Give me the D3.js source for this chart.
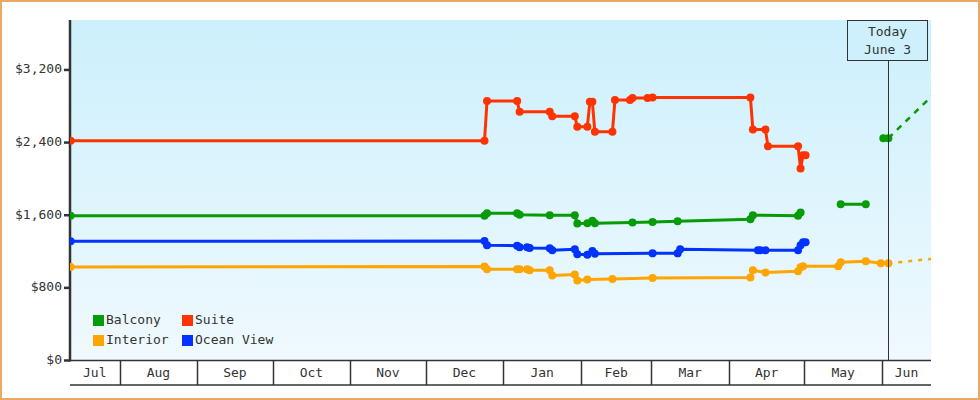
<!DOCTYPE html>
<html>
<head>
<meta charset="utf-8">
<script src="https://cdn.jsdelivr.net/npm/d3@7"></script>
<style>
  html, body { margin: 0; padding: 0; background: #fff; }
  svg { display: block; }
  text { font-family: "DejaVu Sans Mono", "Liberation Mono", monospace; font-size: 13px; fill: #333; }
</style>
</head>
<body>
<svg id="chart" width="980" height="400"></svg>
<script>
// ---------------- DATA ----------------
const seriesNames = ["Balcony", "Suite", "Interior", "Ocean View"];
const seriesColors = ["#079b07", "#ff3300", "#ffa500", "#0033ff"];
const yTicks = [0, 800, 1600, 2400, 3200];
const todayDate = "2023-06-03";
const todayLabel = ["Today", "June 3"];

const suiteDates = ["2022-07-12","2022-12-24","2022-12-25","2023-01-06","2023-01-07","2023-01-19","2023-01-20","2023-01-29","2023-01-30","2023-02-03","2023-02-04","2023-02-05","2023-02-06","2023-02-13","2023-02-14","2023-02-20","2023-02-21","2023-02-27","2023-03-01","2023-04-09","2023-04-10","2023-04-15","2023-04-16","2023-04-28","2023-04-29","2023-04-30","2023-05-01"];
const suitePrices = [2420,2419,2857,2857,2740,2740,2691,2690,2573,2575,2849,2849,2518,2518,2868,2868,2890,2890,2897,2897,2544,2544,2360,2360,2114,2261,2261];

const balconyDates = ["2022-07-12","2022-12-24","2022-12-25","2023-01-06","2023-01-07","2023-01-19","2023-01-29","2023-01-30","2023-02-03","2023-02-05","2023-02-06","2023-02-21","2023-03-01","2023-03-11","2023-04-09","2023-04-10","2023-04-28","2023-04-29","2023-05-07","2023-05-15","2023-05-25","2023-05-28","2023-06-01","2023-06-03"];
const balconyPrices = [1595,1595,1621,1621,1605,1600,1600,1508,1511,1539,1511,1520,1525,1533,1555,1600,1595,1630,null,1720,1720,null,2448,2448];

const oceanDates = ["2022-07-12","2022-12-24","2022-12-25","2023-01-06","2023-01-07","2023-01-10","2023-01-11","2023-01-19","2023-01-20","2023-01-29","2023-01-30","2023-02-03","2023-02-05","2023-02-06","2023-03-01","2023-03-11","2023-03-12","2023-04-12","2023-04-13","2023-04-15","2023-04-28","2023-04-29","2023-04-30","2023-05-01"];
const oceanPrices = [1312,1315,1268,1265,1246,1248,1240,1235,1213,1224,1169,1166,1205,1177,1180,1180,1224,1213,1213,1213,1213,1268,1301,1301];

const interiorDates = ["2022-07-12","2022-12-24","2022-12-25","2023-01-06","2023-01-07","2023-01-10","2023-01-11","2023-01-19","2023-01-20","2023-01-29","2023-01-30","2023-02-03","2023-02-13","2023-03-01","2023-04-09","2023-04-10","2023-04-15","2023-04-28","2023-04-29","2023-04-30","2023-05-14","2023-05-15","2023-05-25","2023-05-31","2023-06-03"];
const interiorPrices = [1031,1035,1004,1006,1004,1004,993,993,937,948,882,893,897,908,915,993,968,982,1026,1037,1037,1081,1092,1070,1070];

const forecastDates = ["2023-06-03","2023-06-21"];
const balconyForecast = [2448, 2930];
const interiorForecast = [1070, 1122];

// ---------------- CHART ----------------
const W = 980, H = 400;
const plot = { left: 70, right: 931, top: 20, bottom: 360.5 };
const axisBottom = 385;

const parse = d3.timeParse("%Y-%m-%d");
const noon = s => d3.timeHour.offset(parse(s), 12);

const x = d3.scaleTime()
  .domain([new Date(2022, 6, 12, 6), new Date(2023, 5, 20, 12)])
  .range([plot.left, plot.right]);
const y = d3.scaleLinear().domain([0, 3750]).range([plot.bottom, plot.top]);

const svg = d3.select("#chart");

// frame
svg.append("rect").attr("x", 1).attr("y", 1).attr("width", W - 2).attr("height", H - 2)
  .attr("fill", "#fff").attr("stroke", "#eaa866").attr("stroke-width", 2);

const defs = svg.append("defs");
const grad = defs.append("linearGradient").attr("id", "bg").attr("x1", 0).attr("y1", 0).attr("x2", 0).attr("y2", 1);
grad.append("stop").attr("offset", "0%").attr("stop-color", "#ccf0fc");
grad.append("stop").attr("offset", "100%").attr("stop-color", "#f0f9fe");
defs.append("clipPath").attr("id", "clip").append("rect")
  .attr("x", plot.left).attr("y", plot.top)
  .attr("width", plot.right - plot.left).attr("height", plot.bottom - plot.top);

svg.append("rect").attr("x", plot.left).attr("y", plot.top)
  .attr("width", plot.right - plot.left).attr("height", plot.bottom - plot.top)
  .attr("fill", "url(#bg)");

// x axis (month bands)
const [d0, d1] = x.domain();
const months = d3.timeMonth.range(d3.timeMonth.floor(d0), d1);
const xa = svg.append("g");
xa.append("line").attr("x1", plot.left).attr("x2", plot.right).attr("y1", plot.bottom).attr("y2", plot.bottom)
  .attr("stroke", "#333").attr("stroke-width", 1.5);
xa.append("line").attr("x1", plot.left).attr("x2", plot.right).attr("y1", axisBottom).attr("y2", axisBottom)
  .attr("stroke", "#333").attr("stroke-width", 1.5);
months.forEach(m => {
  const s = Math.max(x(m), plot.left);
  const e = Math.min(x(d3.timeMonth.offset(m, 1)), plot.right);
  if (x(m) > plot.left) {
    xa.append("line").attr("x1", Math.round(x(m)) + 0.5).attr("x2", Math.round(x(m)) + 0.5)
      .attr("y1", plot.bottom).attr("y2", axisBottom).attr("stroke", "#333").attr("stroke-width", 1.5);
  }
  xa.append("text").attr("x", (s + e) / 2).attr("y", (plot.bottom + axisBottom) / 2 + 1)
    .attr("text-anchor", "middle").attr("dominant-baseline", "middle")
    .text(d3.timeFormat("%b")(m));
});

// y axis
const ya = svg.append("g");
yTicks.forEach(t => {
  ya.append("line").attr("x1", 64).attr("x2", plot.left).attr("y1", y(t)).attr("y2", y(t))
    .attr("stroke", "#333").attr("stroke-width", 2.5);
  ya.append("text").attr("x", 62).attr("y", y(t)).attr("text-anchor", "end")
    .attr("dominant-baseline", "middle").text("$" + d3.format(",")(t));
});
ya.append("line").attr("x1", plot.left).attr("x2", plot.left).attr("y1", plot.top).attr("y2", plot.bottom + 1)
  .attr("stroke", "#333").attr("stroke-width", 2.5);

// series
const line = d3.line().defined(d => d.v != null).x(d => x(d.d)).y(d => y(d.v));
const g = svg.append("g").attr("clip-path", "url(#clip)");

function drawSeries(dates, prices, color) {
  const data = dates.map((s, i) => ({ d: noon(s), v: prices[i] }));
  g.append("path").datum(data).attr("d", line).attr("fill", "none")
    .attr("stroke", color).attr("stroke-width", 3).attr("stroke-linejoin", "round");
  g.selectAll(null).data(data.filter(d => d.v != null)).enter().append("circle")
    .attr("cx", d => x(d.d)).attr("cy", d => y(d.v)).attr("r", 4).attr("fill", color);
}
function drawForecast(dates, prices, color, dash) {
  const data = dates.map((s, i) => ({ d: noon(s), v: prices[i] }));
  g.append("path").datum(data).attr("d", line).attr("fill", "none")
    .attr("stroke", color).attr("stroke-width", 2.5).attr("stroke-dasharray", dash);
}

drawForecast(forecastDates, balconyForecast, seriesColors[0], "6,6");
drawForecast(forecastDates, interiorForecast, seriesColors[2], "4,6");
drawSeries(interiorDates, interiorPrices, seriesColors[2]);
drawSeries(oceanDates, oceanPrices, seriesColors[3]);
drawSeries(balconyDates, balconyPrices, seriesColors[0]);
drawSeries(suiteDates, suitePrices, seriesColors[1]);

// today marker
const tx = Math.round(x(noon(todayDate))) + 0.5;
const box = { x: 847.5, y: 20.5, w: 80, h: 40 };
svg.append("line").attr("x1", tx).attr("x2", tx).attr("y1", box.y + box.h).attr("y2", plot.bottom)
  .attr("stroke", "#333").attr("stroke-width", 1);
svg.append("rect").attr("x", box.x).attr("y", box.y).attr("width", box.w).attr("height", box.h)
  .attr("fill", "#cdf0fc").attr("stroke", "#333").attr("stroke-width", 1);
todayLabel.forEach((t, i) => {
  svg.append("text").attr("x", box.x + box.w / 2).attr("y", box.y + 12 + i * 18)
    .attr("text-anchor", "middle").attr("dominant-baseline", "middle").text(t);
});

// legend
const legendPos = [[93, 320.5], [182, 320.5], [93, 340.5], [182, 340.5]];
seriesNames.forEach((n, i) => {
  const [lx, ly] = legendPos[i];
  svg.append("rect").attr("x", lx).attr("y", ly - 5.5).attr("width", 11).attr("height", 11)
    .attr("fill", seriesColors[i]);
  svg.append("text").attr("x", lx + 13).attr("y", ly).attr("dominant-baseline", "middle").text(n);
});
</script>
</body>
</html>
